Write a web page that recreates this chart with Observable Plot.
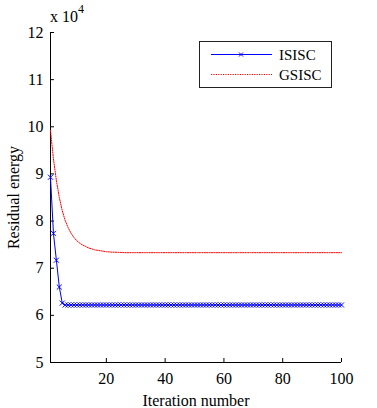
<!DOCTYPE html>
<html><head><meta charset="utf-8">
<script src="https://cdn.jsdelivr.net/npm/d3@7"></script>
<script src="https://cdn.jsdelivr.net/npm/@observablehq/plot@0.6"></script>
<style>
body{margin:0;background:#fff}
</style>
</head><body><div id="chart"></div>
<script>
const seriesNames = ["ISISC", "GSISC"];
const seriesColors = ["#0000ff", "#ff0000"];
const xTicks = [20, 40, 60, 80, 100];
const yTicks = [5, 6, 7, 8, 9, 10, 11, 12];
const scaleNote = "x 10";
const scaleExp = "4";
const xTitle = "Iteration number";
const yTitle = "Residual energy";
const serif = "'Liberation Serif', 'Times New Roman', serif";

const isisc = [
  8.93, 7.74, 7.17, 6.60, 6.26, 6.22, 6.22, 6.22, 6.22, 6.22,
  6.22, 6.22, 6.22, 6.22, 6.22, 6.22, 6.22, 6.22, 6.22, 6.22,
  6.22, 6.22, 6.22, 6.22, 6.22, 6.22, 6.22, 6.22, 6.22, 6.22,
  6.22, 6.22, 6.22, 6.22, 6.22, 6.22, 6.22, 6.22, 6.22, 6.22,
  6.22, 6.22, 6.22, 6.22, 6.22, 6.22, 6.22, 6.22, 6.22, 6.22,
  6.22, 6.22, 6.22, 6.22, 6.22, 6.22, 6.22, 6.22, 6.22, 6.22,
  6.22, 6.22, 6.22, 6.22, 6.22, 6.22, 6.22, 6.22, 6.22, 6.22,
  6.22, 6.22, 6.22, 6.22, 6.22, 6.22, 6.22, 6.22, 6.22, 6.22,
  6.22, 6.22, 6.22, 6.22, 6.22, 6.22, 6.22, 6.22, 6.22, 6.22,
  6.22, 6.22, 6.22, 6.22, 6.22, 6.22, 6.22, 6.22, 6.22, 6.22
];
const gsisc = [
  9.92, 9.32, 8.86, 8.50, 8.22, 8.01, 7.86, 7.74, 7.65, 7.58,
  7.53, 7.49, 7.46, 7.43, 7.41, 7.39, 7.38, 7.37, 7.36, 7.35,
  7.345, 7.34, 7.34, 7.335, 7.335, 7.33, 7.33, 7.33, 7.33, 7.33,
  7.33, 7.33, 7.33, 7.33, 7.33, 7.33, 7.33, 7.33, 7.33, 7.33,
  7.33, 7.33, 7.33, 7.33, 7.33, 7.33, 7.33, 7.33, 7.33, 7.33,
  7.33, 7.33, 7.33, 7.33, 7.33, 7.33, 7.33, 7.33, 7.33, 7.33,
  7.33, 7.33, 7.33, 7.33, 7.33, 7.33, 7.33, 7.33, 7.33, 7.33,
  7.33, 7.33, 7.33, 7.33, 7.33, 7.33, 7.33, 7.33, 7.33, 7.33,
  7.33, 7.33, 7.33, 7.33, 7.33, 7.33, 7.33, 7.33, 7.33, 7.33,
  7.33, 7.33, 7.33, 7.33, 7.33, 7.33, 7.33, 7.33, 7.33, 7.33
];

const iData = isisc.map((v, i) => ({it: i + 1, v}));
const gData = gsisc.map((v, i) => ({it: i + 1, v}));
const fmt = d => String(d);

const plot = Plot.plot({
  width: 377, height: 408,
  marginTop: 32, marginLeft: 50, marginRight: 36, marginBottom: 46,
  style: {fontFamily: serif, fontSize: "16px", color: "#000", background: "#fff", overflow: "visible"},
  x: {domain: [1, 100]},
  y: {domain: [5, 12]},
  marks: [
    Plot.axisX({ticks: xTicks, tickFormat: fmt, tickSize: -4, tickPadding: 14, label: xTitle, labelAnchor: "center", labelOffset: 43, labelArrow: "none", fontSize: 16}),
    Plot.axisY({ticks: yTicks, tickFormat: fmt, tickSize: -4, tickPadding: 11, label: yTitle, labelAnchor: "center", labelOffset: 43, labelArrow: "none", fontSize: 16}),
    Plot.ruleX([1], {stroke: "#000"}),
    Plot.ruleY([5], {stroke: "#000"}),
    Plot.line(gData, {x: "it", y: "v", stroke: seriesColors[1], strokeWidth: 1, strokeDasharray: "1.2,1.2"}),
    Plot.line(iData, {x: "it", y: "v", stroke: seriesColors[0], strokeWidth: 1}),
    Plot.dot(iData, {x: "it", y: "v", symbol: "times", r: 2.4, stroke: seriesColors[0], strokeWidth: 1})
  ]
});
document.getElementById("chart").appendChild(plot);

const svg = d3.select(plot);
const note = svg.append("text").attr("x", 50).attr("y", 22).attr("text-anchor", "start")
  .attr("font-size", 16).attr("fill", "#000").text(scaleNote);
note.append("tspan").attr("dy", -9).attr("font-size", 12).text(scaleExp);

const lg = svg.append("g");
lg.append("rect").attr("x", 199.5).attr("y", 41.5).attr("width", 132).attr("height", 46)
  .attr("fill", "#fff").attr("stroke", "#222");
seriesNames.forEach((name, i) => {
  const y = 54.5 + i * 20;
  lg.append("line").attr("x1", 211).attr("x2", 272).attr("y1", y).attr("y2", y)
    .attr("stroke", seriesColors[i]).attr("stroke-width", 1)
    .attr("stroke-dasharray", i === 1 ? "1.2,1.2" : null);
  if (i === 0) {
    lg.append("path").attr("d", `M239,${y-2}L243,${y+2}M239,${y+2}L243,${y-2}`)
      .attr("stroke", seriesColors[0]).attr("fill", "none");
  }
  lg.append("text").attr("x", 279).attr("y", y).attr("dy", "0.35em").attr("text-anchor", "start")
    .attr("font-size", 15).attr("fill", "#000").text(name);
});
svg.selectAll("text").attr("font-family", serif).style("font-family", serif);
</script>
</body></html>
